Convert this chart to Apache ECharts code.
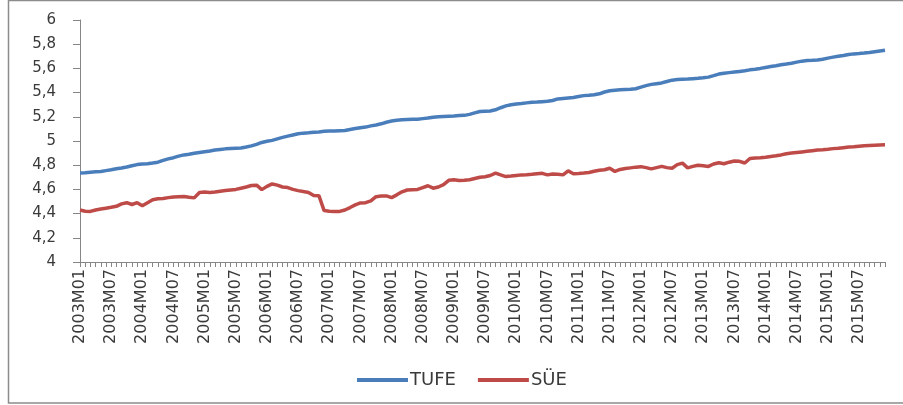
<!DOCTYPE html>
<html>
<head>
<meta charset="utf-8">
<script src="https://cdn.jsdelivr.net/npm/echarts@6/dist/echarts.min.js"></script>
<style>
html,body{margin:0;padding:0;background:#fff;}
#chart{width:903px;height:405px;}
</style>
</head>
<body>
<div id="chart"></div>
<script>
// Categories: monthly 2003M01 .. 2015M12
const years = [2003,2004,2005,2006,2007,2008,2009,2010,2011,2012,2013,2014,2015];
const months = ['01','02','03','04','05','06','07','08','09','10','11','12'];
const categories = [];
years.forEach(y => months.forEach(m => categories.push(y + 'M' + m)));

const seriesNames = ['TUFE', 'SÜE'];

const tufe = [
  4.735,4.737,4.742,4.745,4.748,4.755,4.762,4.770,4.777,4.785,4.795,4.805,
  4.810,4.812,4.818,4.825,4.840,4.852,4.862,4.875,4.885,4.890,4.898,4.905,
  4.912,4.918,4.925,4.930,4.935,4.938,4.940,4.942,4.950,4.960,4.972,4.988,
  4.998,5.005,5.018,5.030,5.040,5.050,5.060,5.065,5.068,5.072,5.075,5.080,
  5.082,5.083,5.085,5.087,5.095,5.103,5.110,5.115,5.125,5.132,5.142,5.155,
  5.165,5.172,5.176,5.178,5.179,5.180,5.185,5.190,5.197,5.200,5.203,5.205,
  5.207,5.210,5.212,5.220,5.232,5.244,5.246,5.248,5.258,5.275,5.290,5.300,
  5.306,5.310,5.315,5.320,5.322,5.325,5.328,5.335,5.348,5.352,5.356,5.360,
  5.368,5.375,5.378,5.382,5.390,5.405,5.415,5.420,5.423,5.426,5.428,5.432,
  5.445,5.458,5.468,5.474,5.480,5.492,5.503,5.508,5.510,5.512,5.515,5.518,
  5.522,5.528,5.540,5.553,5.560,5.565,5.570,5.575,5.580,5.588,5.593,5.600,
  5.608,5.615,5.622,5.630,5.636,5.643,5.652,5.660,5.665,5.667,5.670,5.676,
  5.685,5.693,5.700,5.707,5.715,5.720,5.723,5.727,5.732,5.738,5.744,5.750
];

const sue = [
  4.430,4.420,4.418,4.430,4.438,4.445,4.452,4.460,4.480,4.490,4.475,4.490,
  4.465,4.490,4.515,4.522,4.525,4.532,4.538,4.540,4.542,4.535,4.530,4.575,
  4.578,4.575,4.578,4.585,4.590,4.595,4.600,4.610,4.620,4.632,4.635,4.598,
  4.625,4.645,4.635,4.620,4.615,4.600,4.590,4.582,4.575,4.550,4.548,4.425,
  4.420,4.418,4.418,4.430,4.450,4.472,4.488,4.490,4.505,4.540,4.545,4.546,
  4.532,4.555,4.580,4.595,4.598,4.600,4.615,4.630,4.610,4.620,4.640,4.675,
  4.680,4.673,4.675,4.680,4.690,4.700,4.705,4.715,4.735,4.720,4.706,4.710,
  4.715,4.720,4.722,4.725,4.730,4.733,4.720,4.728,4.725,4.720,4.753,4.730,
  4.732,4.735,4.740,4.750,4.758,4.762,4.775,4.748,4.765,4.772,4.778,4.784,
  4.788,4.780,4.770,4.780,4.790,4.780,4.775,4.805,4.817,4.778,4.790,4.800,
  4.795,4.790,4.810,4.820,4.812,4.825,4.835,4.832,4.818,4.855,4.860,4.862,
  4.866,4.872,4.878,4.885,4.895,4.900,4.905,4.910,4.915,4.920,4.925,4.928,
  4.932,4.937,4.940,4.945,4.950,4.953,4.957,4.960,4.963,4.965,4.967,4.968
];

const yMin = 4, yMax = 6, yStep = 0.2;

const textColor = '#3a3a3a';
const axisColor = '#868686';
const font = 'DejaVu Sans';

const chart = echarts.init(document.getElementById('chart'), null, {renderer: 'canvas'});
chart.setOption({
  animation: false,
  backgroundColor: '#ffffff',
  graphic: [{
    type: 'rect',
    shape: {x: 8.5, y: 0.5, width: 920, height: 402.5},
    style: {fill: 'none', stroke: '#8c8c8c', lineWidth: 1.5},
    silent: true
  }],
  grid: {left: 80, right: 18, top: 20, bottom: 143, containLabel: false, outerBoundsMode: 'none'},
  legend: {
    data: seriesNames,
    left: 352,
    top: 366,
    icon: 'rect',
    itemWidth: 51,
    itemHeight: 4,
    itemGap: 22,
    textStyle: {color: textColor, fontFamily: font, fontSize: 18, padding: [0,0,0,-3]}
  },
  xAxis: {
    type: 'category',
    data: categories,
    boundaryGap: false,
    axisLine: {show: true, lineStyle: {color: axisColor, width: 1}},
    axisTick: {show: true, interval: 0, length: 5, inside: false, lineStyle: {color: axisColor}},
    axisLabel: {
      interval: 5,
      rotate: 90,
      margin: 7,
      color: textColor,
      fontFamily: font,
      fontSize: 16
    },
    splitLine: {show: false}
  },
  yAxis: {
    type: 'value',
    min: yMin,
    max: yMax,
    interval: yStep,
    axisLine: {show: true, lineStyle: {color: axisColor, width: 1}},
    axisTick: {show: true, length: 7, lineStyle: {color: axisColor}},
    axisLabel: {
      margin: 24,
      color: textColor,
      fontFamily: font,
      fontSize: 15,
      formatter: v => String(+(+v).toFixed(1)).replace('.', ',')
    },
    splitLine: {show: false}
  },
  series: [
    {
      name: seriesNames[0],
      type: 'line',
      data: tufe,
      symbol: 'none',
      smooth: false,
      itemStyle: {color: '#4a7ebb'},
      lineStyle: {color: '#4a7ebb', width: 3.5}
    },
    {
      name: seriesNames[1],
      type: 'line',
      data: sue,
      symbol: 'none',
      smooth: false,
      itemStyle: {color: '#be4b48'},
      lineStyle: {color: '#be4b48', width: 3.5}
    }
  ]
});
</script>
</body>
</html>
